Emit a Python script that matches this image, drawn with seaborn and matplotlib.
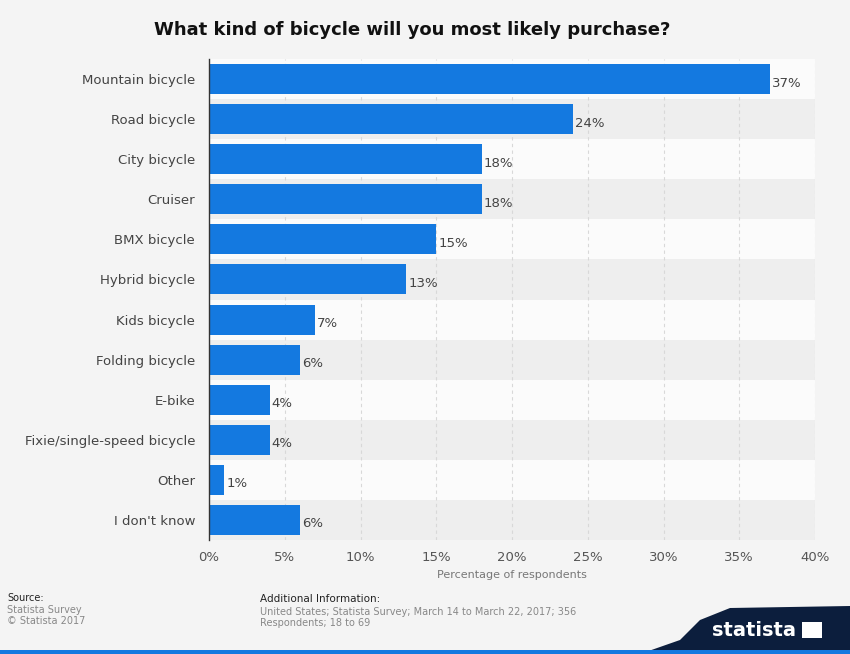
import matplotlib
matplotlib.use("Agg")
import matplotlib.pyplot as plt
import seaborn as sns
import pandas as pd
import numpy as np
from matplotlib.patches import Polygon, Rectangle

categories = ["Mountain bicycle", "Road bicycle", "City bicycle", "Cruiser", "BMX bicycle",
              "Hybrid bicycle", "Kids bicycle", "Folding bicycle", "E-bike",
              "Fixie/single-speed bicycle", "Other", "I don't know"]
values = [37, 24, 18, 18, 15, 13, 7, 6, 4, 4, 1, 6]
xticks = [0, 5, 10, 15, 20, 25, 30, 35, 40]
xtick_labels = ["0%", "5%", "10%", "15%", "20%", "25%", "30%", "35%", "40%"]

sns.set_theme(style="white")
plt.rcParams['font.family'] = ['DejaVu Sans']

df = pd.DataFrame({"category": categories, "value": values})

fig = plt.figure(figsize=(8.5, 6.54), dpi=100)
fig.patch.set_facecolor("#f4f4f4")
ax = fig.add_axes([209/850, 114/654, 606/850, 481/654])
ax.set_facecolor("#f4f4f4")

# alternating stripes
for i in range(len(categories)):
    ax.axhspan(i - 0.5, i + 0.5, color="#fbfbfb" if i % 2 == 0 else "#eeeeee", zorder=0, lw=0)

sns.barplot(data=df, x="value", y="category", color="#1479e0", width=0.75,
            saturation=1, ax=ax, zorder=3, edgecolor="none", linewidth=0)

for i, v in enumerate(values):
    ax.text(v + 0.15, i + 0.1, f"{v}%", va="center", ha="left", fontsize=9.5, color="#444444", zorder=4)

ax.set_xlim(0, 40)
ax.set_ylim(len(categories) - 0.5, -0.5)
ax.set_xticks(xticks)
ax.set_xticklabels(xtick_labels, fontsize=9.5, color="#555555")
ax.tick_params(axis="y", labelsize=9.5, labelcolor="#444444", length=0, pad=10)
ax.tick_params(axis="x", length=0, pad=8)
ax.set_ylabel("")
ax.set_xlabel("Percentage of respondents", fontsize=8, color="#777777", labelpad=4)
for x in xticks[1:]:
    ax.axvline(x, color="#d8d8d8", lw=0.8, ls=(0, (3, 3)), zorder=1)
for s in ["top", "right", "bottom"]:
    ax.spines[s].set_visible(False)
ax.spines["left"].set_color("#333333")
ax.spines["left"].set_linewidth(1.0)
ax.spines["left"].set_zorder(5)

fig.text(0.485, 1 - 30/654, "What kind of bicycle will you most likely purchase?", ha="center",
         va="center", fontsize=13, fontweight="bold", color="#111111")

# footer
fig.text(7/850, 1 - 598/654, "Source:", fontsize=7, color="#222222", va="center")
fig.text(7/850, 1 - 610/654, "Statista Survey", fontsize=7, color="#888888", va="center")
fig.text(7/850, 1 - 621/654, "© Statista 2017", fontsize=7, color="#888888", va="center")
fig.text(260/850, 1 - 599/654, "Additional Information:", fontsize=7.5, color="#222222", va="center")
fig.text(260/850, 1 - 612/654, "United States; Statista Survey; March 14 to March 22, 2017; 356",
         fontsize=7, color="#888888", va="center")
fig.text(260/850, 1 - 623/654, "Respondents; 18 to 69", fontsize=7, color="#888888", va="center")

# statista banner
W, H = 850, 654
pts = [(640, 654), (680, 640), (700, 620), (730, 608), (850, 606), (850, 654)]
fig.patches.append(Polygon([(x / W, 1 - y / H) for x, y in pts], closed=True,
                           transform=fig.transFigure, facecolor="#0c1e3d", edgecolor="none"))
fig.patches.append(Rectangle((0, 0), 1, 4 / H, transform=fig.transFigure,
                             facecolor="#1479e0", edgecolor="none"))
fig.text(754 / W, 1 - 630 / H, "statista", fontsize=14, fontweight="bold", color="white",
         ha="center", va="center")
fig.patches.append(Polygon([(802 / W, 1 - 638 / H), (822 / W, 1 - 638 / H), (822 / W, 1 - 622 / H),
                            (802 / W, 1 - 622 / H)], closed=True, transform=fig.transFigure,
                           facecolor="white", edgecolor="none"))

fig.savefig("out.png", dpi=100, facecolor=fig.get_facecolor())
